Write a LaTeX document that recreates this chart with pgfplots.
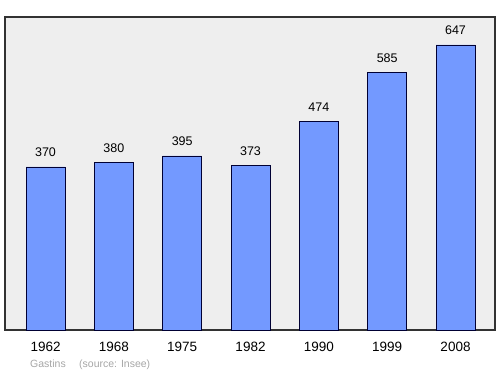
\documentclass[border=0pt]{standalone}
\usepackage{pgfplots}
\pgfplotsset{compat=1.18}
\usepackage{fontspec}
\setmainfont{Liberation Sans}
\definecolor{bgc}{RGB}{238,238,238}
\definecolor{barc}{RGB}{115,153,255}
\definecolor{framec}{RGB}{50,50,50}
\begin{document}
\begin{tikzpicture}[x=1pt,y=1pt]
\useasboundingbox (0,0) rectangle (500,374);
\begin{axis}[
  at={(5pt,44pt)}, anchor=south west,
  scale only axis, width=490pt, height=313pt,
  xmin=-0.593, xmax=6.578, ymin=0, ymax=710.5,
  /pgf/number format/assume math mode=true,
  axis background/.style={fill=bgc},
  axis line style={framec, line width=1.2pt},
  xtick={0,1,2,3,4,5,6},
  xticklabels={1962,1968,1975,1982,1990,1999,2008},
  xticklabel style={font=\fontsize{13.5}{13.5}\selectfont, inner sep=0pt, anchor=north, yshift=-12pt},
  ytick=\empty,
  major tick length=0pt,
  ybar, bar width=39pt,
  nodes near coords,
  every node near coord/.append style={font=\fontsize{12.5}{12.5}\selectfont, inner sep=0pt, anchor=south, yshift=9.5pt},
  clip=false,
]
\addplot[fill=barc, draw=black!80!blue, line width=0.9pt] coordinates {
(0,370) (1,380) (2,395) (3,373) (4,474) (5,585) (6,647)
};
\end{axis}
\node[anchor=west, text=black!35, font=\fontsize{10.5}{10.5}\selectfont, inner sep=0pt] at (30,9) {Gastins\quad\ (source: Insee)};
\end{tikzpicture}
\end{document}
